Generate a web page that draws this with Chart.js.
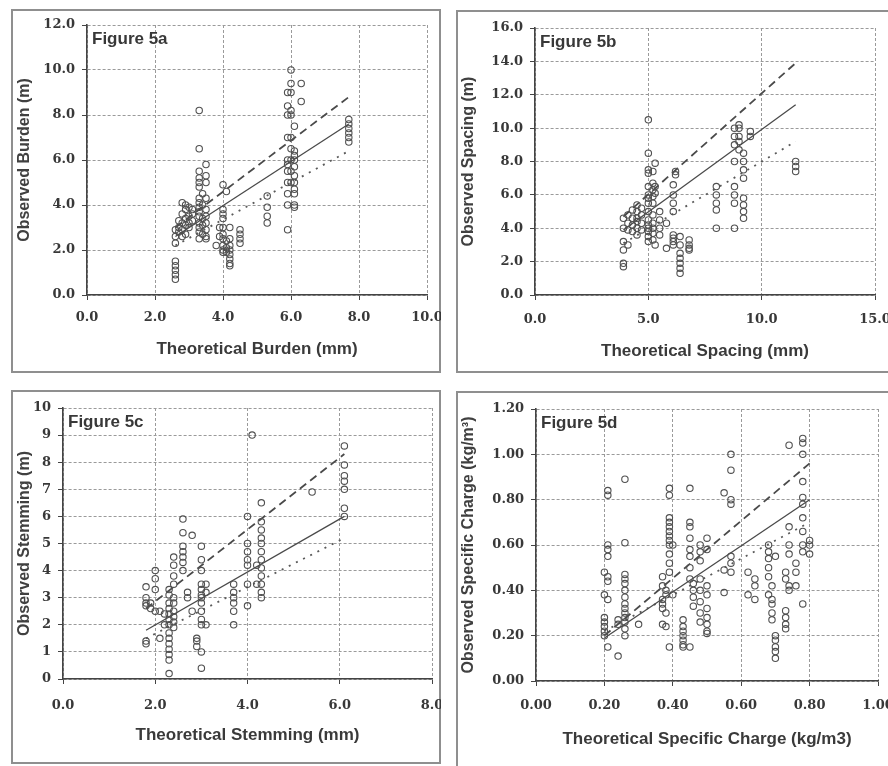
<!DOCTYPE html>
<html>
<head>
<meta charset="utf-8">
<script src="https://cdn.jsdelivr.net/npm/chart.js@4"></script>
<style>
  body { margin:0; width:888px; height:766px; overflow:hidden; background:#fff; position:relative; }
  .frame { position:absolute; box-sizing:border-box; border:2px solid #8f8f8f; }
  canvas { position:absolute; }
</style>
</head>
<body>
<div class="frame" style="left:11px;top:9px;width:430px;height:364px"></div>
<div class="frame" style="left:456px;top:10px;width:440px;height:363px"></div>
<div class="frame" style="left:11px;top:390px;width:430px;height:374px"></div>
<div class="frame" style="left:456px;top:391px;width:440px;height:380px"></div>
<canvas id="fig5a" width="430" height="364" style="left:11px;top:9px"></canvas>
<canvas id="fig5b" width="440" height="363" style="left:456px;top:10px"></canvas>
<canvas id="fig5c" width="430" height="374" style="left:11px;top:390px"></canvas>
<canvas id="fig5d" width="440" height="380" style="left:456px;top:391px"></canvas>
<script>
// Figure 5a - burden: theoretical value of each column, observed values in that column
const burdenTheo = [2.6, 2.7, 2.8, 2.9, 3.0, 3.1, 3.3, 3.4, 3.5, 3.8, 3.9, 4.0, 4.1, 4.2, 4.5, 5.3, 5.9, 6.0, 6.1, 6.3, 7.7]
const burdenObs = [
  [0.7, 0.9, 1.1, 1.3, 1.5, 2.3, 2.6, 2.9],
  [3.0, 3.3, 2.8],
  [4.1, 3.6, 3.2, 2.9, 2.6],
  [4.0, 3.8, 3.4, 3.1, 2.7],
  [3.9, 3.5, 3.2, 3.0],
  [3.8, 3.3, 3.6],
  [8.2, 6.5, 5.5, 5.2, 5.0, 4.8, 4.3, 4.1, 3.9, 3.7, 3.5, 3.2, 3.0, 2.8, 2.5],
  [4.5, 4.0, 3.4, 3.1, 2.7],
  [5.8, 5.3, 5.0, 4.3, 3.8, 3.5, 3.2, 2.9, 2.6, 2.5],
  [2.2],
  [3.0, 2.6],
  [4.9, 3.8, 3.6, 3.4, 3.0, 2.7, 2.5, 2.2, 2.0, 1.9],
  [4.6, 2.4, 2.1, 1.9],
  [3.0, 2.5, 2.2, 2.0, 1.8, 1.6, 1.4, 1.3],
  [2.9, 2.7, 2.5, 2.3],
  [4.4, 3.9, 3.5, 3.2],
  [9.0, 8.4, 8.0, 7.0, 6.0, 5.8, 5.5, 5.0, 4.5, 4.0, 2.9],
  [10.0, 9.4, 9.0, 8.2, 8.0, 7.0, 6.5, 6.0, 5.5, 5.0],
  [7.5, 6.4, 6.2, 6.0, 5.7, 5.3, 5.0, 4.7, 4.5, 4.0, 3.9],
  [9.4, 8.6],
  [7.8, 7.6, 7.4, 7.2, 7.0, 6.8]
]
const burdenLineX = [2.6, 7.7]
const burdenDashed = [3.0, 8.8]
const burdenSolid = [2.6, 7.6]
const burdenDotted = [2.2, 6.4]

// Figure 5b - spacing
const spacingTheo = [3.9, 4.1, 4.3, 4.5, 4.7, 5.0, 5.2, 5.3, 5.5, 5.8, 6.1, 6.2, 6.4, 6.8, 8.0, 8.8, 9.0, 9.2, 9.5, 11.5]
const spacingObs = [
  [3.2, 2.7, 1.9, 1.7, 4.0, 4.6],
  [4.8, 4.3, 3.9, 3.0],
  [5.1, 4.6, 4.2, 3.8],
  [5.4, 5.0, 4.6, 4.4, 4.0, 3.6],
  [5.2, 4.8, 4.3, 3.9],
  [10.5, 8.5, 7.5, 7.3, 6.5, 6.0, 5.8, 5.5, 5.0, 4.5, 4.2, 4.0, 3.8, 3.5, 3.2],
  [7.4, 6.7, 6.3, 5.9, 5.5, 4.8, 4.3, 4.0, 3.7, 3.3],
  [7.9, 6.5, 6.1, 3.0],
  [5.0, 4.5, 4.0, 3.6],
  [2.8, 4.3],
  [6.6, 6.0, 5.5, 5.0, 3.6, 3.4, 3.2, 3.0],
  [7.2, 7.4],
  [3.5, 3.0, 2.5, 2.2, 1.9, 1.6, 1.3],
  [3.3, 3.0, 2.8, 2.7],
  [6.5, 6.0, 5.5, 5.1, 4.0],
  [10.0, 9.5, 9.0, 8.0, 6.5, 6.0, 5.5, 4.0],
  [10.2, 10.0, 9.5, 9.2, 8.7],
  [8.5, 8.0, 7.5, 7.0, 5.8, 5.4, 5.0, 4.6],
  [9.8, 9.5],
  [8.0, 7.7, 7.4]
]
const spacingLineX = [3.9, 11.5]
const spacingDashed = [4.7, 13.9]
const spacingSolid = [3.9, 11.4]
const spacingDotted = [3.1, 9.2]

// Figure 5c - stemming
const stemTheo = [1.8, 1.9, 2.0, 2.1, 2.2, 2.3, 2.4, 2.6, 2.7, 2.8, 2.9, 3.0, 3.1, 3.7, 4.0, 4.1, 4.2, 4.3, 5.4, 6.1]
const stemObs = [
  [3.4, 3.0, 2.8, 2.7, 1.4, 1.3],
  [2.8, 2.6],
  [4.0, 3.7, 3.3, 2.5],
  [2.5, 1.5],
  [2.0, 2.4],
  [0.2, 0.7, 0.9, 1.1, 1.3, 1.5, 1.7, 2.0, 2.2, 2.4, 2.6, 2.8, 3.1, 3.3],
  [4.5, 4.2, 3.8, 3.5, 3.0, 2.8, 2.5, 2.3, 2.1, 1.9],
  [5.9, 5.4, 4.9, 4.7, 4.5, 4.3, 4.0],
  [3.2, 3.0],
  [5.3, 2.5],
  [1.5, 1.4, 1.2],
  [4.9, 4.4, 4.0, 3.5, 3.3, 3.1, 3.0, 2.8, 2.5, 2.2, 2.0, 1.0, 0.4],
  [3.5, 3.2, 2.0],
  [3.5, 3.2, 3.0, 2.8, 2.5, 2.0],
  [6.0, 5.0, 4.7, 4.4, 4.2, 3.5, 2.7],
  [9.0],
  [4.2, 3.5],
  [6.5, 5.8, 5.5, 5.2, 5.0, 4.7, 4.4, 4.1, 3.8, 3.5, 3.2, 3.0],
  [6.9],
  [8.6, 7.9, 7.5, 7.3, 7.0, 6.3, 6.0]
]
const stemLineX = [1.8, 6.1]
const stemDashed = [2.6, 8.3]
const stemSolid = [1.8, 6.0]
const stemDotted = [1.5, 5.2]

// Figure 5d - specific charge
const chargeTheo = [0.20, 0.21, 0.24, 0.26, 0.30, 0.37, 0.38, 0.39, 0.40, 0.43, 0.45, 0.46, 0.48, 0.50, 0.55, 0.57, 0.62, 0.64, 0.68, 0.69, 0.70, 0.73, 0.74, 0.76, 0.78, 0.80]
const chargeObs = [
  [0.48, 0.38, 0.28, 0.26, 0.24, 0.22, 0.20],
  [0.84, 0.82, 0.60, 0.58, 0.55, 0.46, 0.44, 0.36, 0.15],
  [0.11, 0.27, 0.25],
  [0.89, 0.61, 0.47, 0.45, 0.43, 0.40, 0.37, 0.34, 0.32, 0.30, 0.28, 0.26, 0.23, 0.20],
  [0.25],
  [0.46, 0.42, 0.36, 0.34, 0.32, 0.25],
  [0.40, 0.38, 0.30, 0.24],
  [0.85, 0.82, 0.72, 0.70, 0.68, 0.66, 0.64, 0.62, 0.60, 0.56, 0.52, 0.48, 0.15],
  [0.60, 0.38],
  [0.27, 0.24, 0.22, 0.20, 0.18, 0.16, 0.15],
  [0.85, 0.70, 0.68, 0.63, 0.58, 0.55, 0.50, 0.45, 0.15],
  [0.43, 0.40, 0.37, 0.33],
  [0.60, 0.57, 0.53, 0.45, 0.40, 0.35, 0.30, 0.26],
  [0.63, 0.58, 0.42, 0.38, 0.32, 0.28, 0.25, 0.22, 0.21],
  [0.83, 0.49, 0.39],
  [1.00, 0.93, 0.80, 0.78, 0.55, 0.52, 0.48],
  [0.48, 0.38],
  [0.45, 0.42, 0.36],
  [0.60, 0.57, 0.54, 0.50, 0.46, 0.38],
  [0.42, 0.36, 0.34, 0.30, 0.27],
  [0.20, 0.18, 0.15, 0.13, 0.10, 0.55],
  [0.48, 0.45, 0.31, 0.28, 0.25, 0.23],
  [1.04, 0.68, 0.60, 0.56, 0.42, 0.40],
  [0.52, 0.48, 0.42],
  [1.07, 1.05, 1.00, 0.88, 0.81, 0.78, 0.72, 0.66, 0.60, 0.57, 0.34],
  [0.62, 0.60, 0.56]
]
const chargeLineX = [0.20, 0.80]
const chargeDashed = [0.20, 0.96]
const chargeSolid = [0.19, 0.80]
const chargeDotted = [0.22, 0.70]

const inkColor = '#4a4a4a'
const tickFont = {family:'"DejaVu Serif", serif', size:13, weight:'bold'}
const titleFont = {family:'"Liberation Sans", Arial, sans-serif', size:16, weight:'bold'}

function toPoints(theo, obs){
  let pts = []
  for(let i=0;i<theo.length;i++){
    for(let j=0;j<obs[i].length;j++){
      pts.push({x:theo[i], y:obs[i][j]})
    }
  }
  return pts
}

function linePoints(xs, ys){
  return xs.map(function(x,i){ return {x:x, y:ys[i]} })
}

function makePanel(id, p){
  const labelPlugin = {
    id:'figLabel',
    afterDraw(chart){
      const ctx = chart.ctx, a = chart.chartArea
      ctx.save()
      ctx.font = 'bold 17px "Liberation Sans", Arial, sans-serif'
      ctx.fillStyle = '#383838'
      ctx.textBaseline = 'middle'
      ctx.fillText(p.label, a.left + 5, a.top + 14)
      ctx.restore()
    }
  }
  new Chart(document.getElementById(id), {
    type:'scatter',
    data:{
      datasets:[
        {data:toPoints(p.theo, p.obs), pointStyle:'circle', pointRadius:3.2, borderWidth:1.1,
         borderColor:'#505050', backgroundColor:'rgba(0,0,0,0)'},
        {data:linePoints(p.lineX, p.dashed), showLine:true, pointRadius:0, borderColor:inkColor,
         borderWidth:1.8, borderDash:[8,5]},
        {data:linePoints(p.lineX, p.solid), showLine:true, pointRadius:0, borderColor:inkColor,
         borderWidth:1.3},
        {data:linePoints(p.lineX, p.dotted), showLine:true, pointRadius:0, borderColor:'#5a5a5a',
         borderWidth:1.8, borderDash:[2,6]}
      ]
    },
    options:{
      responsive:false, animation:false, devicePixelRatio:1,
      layout:{padding:{top:p.padTop, right:p.padRight, left:0, bottom:0}},
      plugins:{legend:{display:false}, tooltip:{enabled:false}},
      scales:{
        x:{
          type:'linear', min:p.xMin, max:p.xMax,
          afterFit(s){ s.height = p.xH; s.paddingLeft = 0; s.paddingRight = 0 },
          ticks:{stepSize:p.xStep, color:'#383838', font:tickFont, padding:p.xPad, maxRotation:0,
                 callback:function(v){ return v.toFixed(p.xDec) }},
          grid:{color:'#9a9a9a', tickColor:'#444', tickLength:5, lineWidth:1},
          border:{color:'#444', width:1.6, dash:[3,2]},
          title:{display:true, text:p.xTitle, color:'#3a3a3a', font:{family:titleFont.family, size:17, weight:'bold'},
                 padding:{top:0, bottom:p.xTitleOff}}
        },
        y:{
          type:'linear', min:p.yMin, max:p.yMax,
          afterFit(s){ s.width = p.yW; s.paddingTop = 0; s.paddingBottom = 0 },
          ticks:{stepSize:p.yStep, color:'#383838', font:tickFont, padding:7,
                 callback:function(v){ return v.toFixed(p.yDec) }},
          grid:{color:'#9a9a9a', tickColor:'#444', tickLength:5, lineWidth:1},
          border:{color:'#444', width:1.6, dash:[3,2]},
          title:{display:true, text:p.yTitle, color:'#404040', font:titleFont,
                 padding:{top:p.yTitleOff, bottom:0}}
        }
      }
    },
    plugins:[labelPlugin]
  })
}

makePanel('fig5a', {
  label:'Figure 5a', theo:burdenTheo, obs:burdenObs, lineX:burdenLineX,
  dashed:burdenDashed, solid:burdenSolid, dotted:burdenDotted,
  xMin:0, xMax:10, xStep:2, xDec:1, yMin:0, yMax:12, yStep:2, yDec:1,
  xTitle:'Theoretical Burden (mm)', yTitle:'Observed Burden (m)',
  yW:76, padTop:16, padRight:14, xH:78, xPad:10, xTitleOff:13, yTitleOff:4
})
makePanel('fig5b', {
  label:'Figure 5b', theo:spacingTheo, obs:spacingObs, lineX:spacingLineX,
  dashed:spacingDashed, solid:spacingSolid, dotted:spacingDotted,
  xMin:0, xMax:15, xStep:5, xDec:1, yMin:0, yMax:16, yStep:2, yDec:1,
  xTitle:'Theoretical Spacing (mm)', yTitle:'Observed Spacing (m)',
  yW:79, padTop:18, padRight:21, xH:78, xPad:12, xTitleOff:11, yTitleOff:3
})
makePanel('fig5c', {
  label:'Figure 5c', theo:stemTheo, obs:stemObs, lineX:stemLineX,
  dashed:stemDashed, solid:stemSolid, dotted:stemDotted,
  xMin:0, xMax:8, xStep:2, xDec:1, yMin:0, yMax:10, yStep:1, yDec:0,
  xTitle:'Theoretical Stemming (mm)', yTitle:'Observed Stemming (m)',
  yW:52, padTop:18, padRight:9, xH:85, xPad:14, xTitleOff:18, yTitleOff:4
})
makePanel('fig5d', {
  label:'Figure 5d', theo:chargeTheo, obs:chargeObs, lineX:chargeLineX,
  dashed:chargeDashed, solid:chargeSolid, dotted:chargeDotted,
  xMin:0, xMax:1, xStep:0.2, xDec:2, yMin:0, yMax:1.2, yStep:0.2, yDec:2,
  xTitle:'Theoretical Specific Charge (kg/m3)', yTitle:'Observed Specific Charge (kg/m³)',
  yW:80, padTop:18, padRight:18, xH:90, xPad:12, xTitleOff:21, yTitleOff:3
})
</script>
</body>
</html>
